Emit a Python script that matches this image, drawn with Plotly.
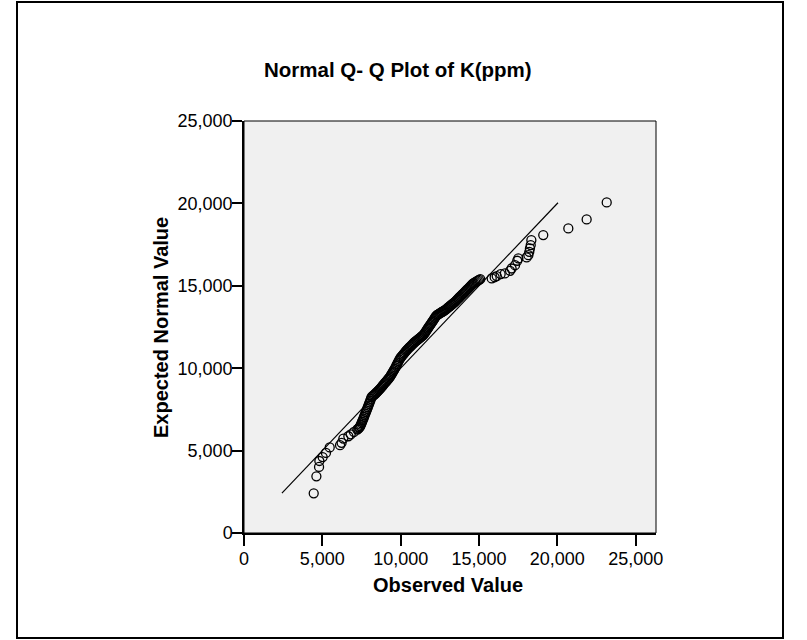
import plotly.graph_objects as go

observed = [
    # lower tail
    4450, 4620, 4790, 4810, 5020, 5230, 5470, 6130, 6230, 6340, 6660, 6810,
    7020, 7230,
    # dense band
    7300, 7340, 7380, 7420, 7460, 7500, 7540, 7580, 7620, 7660, 7700, 7740,
    7780, 7820, 7860, 7900, 7940, 7980, 8020, 8060, 8100, 8140,
    8200, 8260, 8320, 8380, 8440, 8500, 8560, 8620, 8680, 8740, 8800, 8860,
    8920, 8980, 9040, 9100, 9160, 9220, 9280, 9330,
    9370, 9420, 9470, 9520, 9570, 9620, 9670, 9720, 9770, 9820, 9870, 9920,
    9970,
    10030, 10090, 10150, 10210, 10270, 10330, 10390, 10450, 10510, 10570,
    10630, 10690, 10750, 10810, 10870, 10930, 10990, 11050, 11110, 11170,
    11230, 11290, 11350, 11410,
    11470, 11520, 11570, 11620, 11670, 11720, 11770, 11820, 11870, 11920,
    11970, 12020, 12070, 12120, 12170, 12220, 12270,
    12330, 12390, 12450, 12510, 12570, 12630, 12690, 12750, 12810,
    12870, 12930, 12990, 13050, 13110, 13170, 13230, 13290, 13350, 13410,
    13470, 13530, 13590, 13650, 13710, 13770, 13830, 13890, 13950, 14010,
    14070, 14130, 14190, 14250, 14310, 14370, 14430, 14490, 14550, 14610,
    14680, 14760, 14840, 14920, 15000, 15080,
    # upper tail
    15810, 16000, 16130, 16380, 16650, 16980, 17080, 17300, 17440, 17510,
    18040, 18150, 18210, 18250, 18300, 18340, 19100, 20700, 21870, 23150,
]
expected = [
    # lower tail
    2410, 3440, 4010, 4370, 4610, 4860, 5190, 5330, 5470, 5730, 5870, 5990,
    6130, 6280,
    # dense band
    6330, 6380, 6420, 6480, 6570, 6660, 6750, 6850, 6940, 7040, 7140, 7240,
    7340, 7430, 7530, 7630, 7730, 7830, 7930, 8030, 8140, 8240,
    8300, 8350, 8400, 8450, 8510, 8570, 8630, 8690, 8750, 8810, 8880, 8950,
    9020, 9090, 9150, 9220, 9290, 9360, 9430, 9490,
    9560, 9640, 9720, 9800, 9880, 9960, 10050, 10150, 10240, 10340, 10430,
    10520, 10610,
    10680, 10750, 10820, 10890, 10960, 11030, 11100, 11160, 11220, 11280,
    11330, 11390, 11440, 11500, 11560, 11610, 11660, 11700, 11750, 11800,
    11840, 11890, 11940, 11980,
    12040, 12110, 12180, 12250, 12320, 12400, 12470, 12540, 12610, 12680,
    12750, 12820, 12890, 12960, 13040, 13110, 13180,
    13240, 13270, 13300, 13340, 13370, 13410, 13440, 13480, 13510,
    13550, 13600, 13650, 13700, 13740, 13790, 13840, 13880, 13930, 13980,
    14030, 14090, 14150, 14200, 14260, 14320, 14370, 14430, 14490, 14540,
    14600, 14660, 14720, 14780, 14830, 14890, 14950, 15010, 15070, 15130,
    15170, 15220, 15270, 15310, 15360, 15400,
    # upper tail
    15450, 15520, 15590, 15710, 15750, 15910, 16050, 16250, 16520, 16660,
    16720, 16860, 17060, 17270, 17470, 17770, 18080, 18480, 19030, 20060,
]
# Reference line (y = x) over the range of expected values
ref_line = [2420, 20040]

tick_vals = [0, 5000, 10000, 15000, 20000, 25000]
tick_text = ["0", "5,000", "10,000", "15,000", "20,000", "25,000"]

title_text = "Normal Q- Q Plot of K(ppm)"
x_title = "Observed Value"
y_title = "Expected Normal Value"

FONT = "Liberation Sans, Arial, Helvetica, sans-serif"

fig = go.Figure()
fig.add_trace(go.Scatter(
    x=ref_line, y=ref_line, mode="lines",
    line=dict(color="black", width=1.2), hoverinfo="skip", showlegend=False,
))
fig.add_trace(go.Scatter(
    x=observed, y=expected, mode="markers",
    marker=dict(symbol="circle-open", size=9, color="black",
                line=dict(color="black", width=1.3)),
    showlegend=False,
))

W, H = 807, 640
L, R, T, B = 244, 656, 121, 533
pw, ph = R - L, B - T

def px(x):
    return (x - L) / pw

def py(y):
    return (B - y) / ph

fig.update_layout(
    width=W, height=H,
    margin=dict(l=L, r=W - R, t=T, b=H - B, pad=0),
    paper_bgcolor="white",
    plot_bgcolor="#f0f0f0",
    font=dict(family=FONT, color="black", size=18),
    xaxis=dict(
        range=[0, 26296], tickvals=tick_vals, ticktext=tick_text,
        ticks="outside", ticklen=11, tickwidth=1.5, tickcolor="black",
        ticklabelstandoff=-3,
        showline=True, linecolor="black", linewidth=2,
        showgrid=False, zeroline=False, tickfont=dict(size=18),
    ),
    yaxis=dict(
        range=[0, 25000], tickvals=tick_vals, ticktext=tick_text,
        ticks="outside", ticklen=10, tickwidth=1.5, tickcolor="black",
        ticklabelstandoff=-4,
        showline=True, linecolor="black", linewidth=1.5,
        showgrid=False, zeroline=False, tickfont=dict(size=18),
    ),
    shapes=[
        dict(type="rect", xref="paper", yref="paper", x0=0, x1=1, y0=0, y1=1,
             line=dict(color="black", width=1), layer="above"),
        dict(type="rect", xref="paper", yref="paper",
             x0=px(17), x1=px(783), y0=py(638), y1=py(2),
             line=dict(color="black", width=2)),
    ],
    annotations=[
        dict(text="<b>" + title_text + "</b>", xref="paper", yref="paper",
             x=px(398), y=py(70), xanchor="center", yanchor="middle",
             showarrow=False, font=dict(size=20.5, family=FONT)),
        dict(text="<b>" + x_title + "</b>", xref="paper", yref="paper",
             x=px(448), y=py(585), xanchor="center", yanchor="middle",
             showarrow=False, font=dict(size=20, family=FONT)),
        dict(text="<b>" + y_title + "</b>", xref="paper", yref="paper",
             x=px(161), y=py(328), xanchor="center", yanchor="middle",
             textangle=-90, showarrow=False, font=dict(size=20, family=FONT)),
    ],
)

fig.write_html(
    "out.html",
    config={"displayModeBar": False},
    post_script="document.body.style.margin='0';document.body.style.overflow='hidden';",
)
